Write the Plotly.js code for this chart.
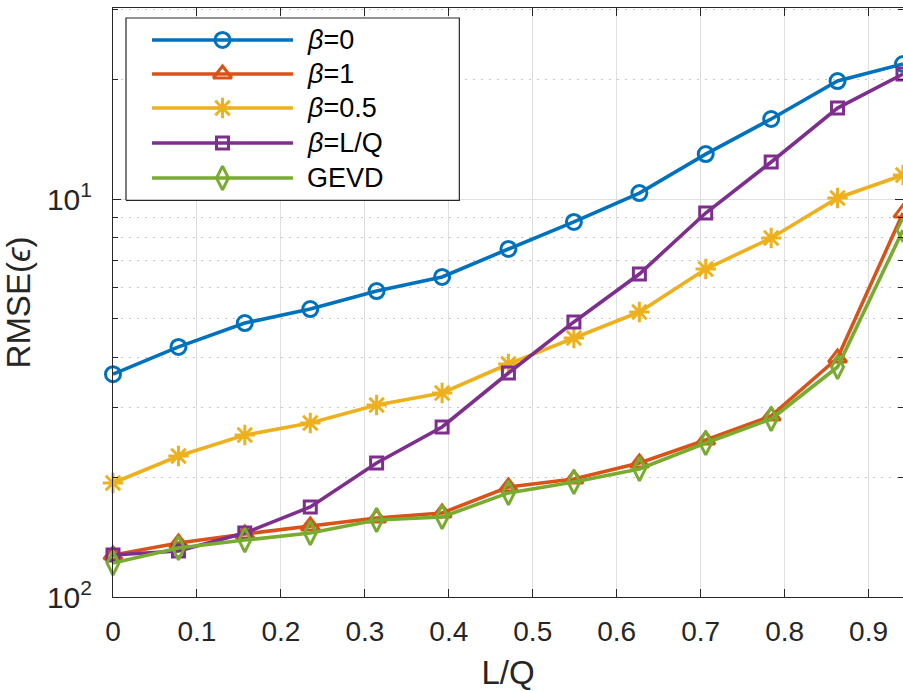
<!DOCTYPE html>
<html>
<head>
<meta charset="utf-8">
<script src="https://cdn.plot.ly/plotly-3.0.1.min.js"></script>
<style>html,body{margin:0;padding:0;background:#fff;}#chart{width:903px;height:691px;}</style>
</head>
<body>
<div id="chart"></div>
<script>
// ---- data ----
const lq = [0, 0.078, 0.157, 0.235, 0.314, 0.392, 0.471, 0.549, 0.627, 0.706, 0.784, 0.863, 0.941];
const beta0   = [0.0363, 0.0425, 0.0488, 0.0529, 0.0587, 0.0637, 0.0749, 0.0876, 0.1035, 0.1297, 0.1589, 0.1979, 0.2184];
const beta1   = [0.01275, 0.01367, 0.0144, 0.01508, 0.01579, 0.01626, 0.0189, 0.0198, 0.02171, 0.0248, 0.0285, 0.03986, 0.0922];
const beta05  = [0.01934, 0.02261, 0.02553, 0.02736, 0.03036, 0.03256, 0.0385, 0.04476, 0.05201, 0.0667, 0.0798, 0.1006, 0.1149];
const betaLQ  = [0.01275, 0.01305, 0.01448, 0.01683, 0.02171, 0.02674, 0.03655, 0.04911, 0.06481, 0.09222, 0.1239, 0.1693, 0.2061];
const gevd    = [0.01217, 0.01328, 0.0139, 0.01448, 0.01561, 0.01589, 0.01826, 0.01945, 0.02097, 0.02437, 0.028, 0.03784, 0.08357];
const seriesNames = ['<i>β</i>=0', '<i>β</i>=1', '<i>β</i>=0.5', '<i>β</i>=L/Q', 'GEVD'];
const xTickVals = [0, 0.1, 0.2, 0.3, 0.4, 0.5, 0.6, 0.7, 0.8, 0.9];
const xTickText = ['0', '0.1', '0.2', '0.3', '0.4', '0.5', '0.6', '0.7', '0.8', '0.9'];
const yTickVals = [0.01, 0.1];
const yTickText = ['10<sup>2</sup>', '10<sup>1</sup>'];
const yMinorVals = [0.02, 0.03, 0.04, 0.05, 0.06, 0.07, 0.08, 0.09, 0.2, 0.3];

// ---- styles ----
const colors = ['#0072BD', '#D95319', '#EDB120', '#7E2F8E', '#77AC30'];
const symbols = ['circle-open', 'triangle-up-open', 'asterisk-open', 'square-open', 'diamond-tall-open'];
const sizes = [15, 16, 17, 12, 17];
const allSeries = [beta0, beta1, beta05, betaLQ, gevd];
const FONT = '"Liberation Sans", Arial, Helvetica, sans-serif';
const axisColor = '#262626';
const LW = 3.6, MLW = 3;

const traces = [];
allSeries.forEach((ys, i) => {
  traces.push({
    x: lq, y: ys, type: 'scatter', mode: 'lines+markers',
    line: {color: colors[i], width: LW},
    marker: {symbol: symbols[i], size: sizes[i], color: colors[i], line: {color: colors[i], width: MLW}},
    cliponaxis: false, showlegend: false, hoverinfo: 'skip'
  });
});

// custom legend (drawn on an overlay axis 0..1)
const boxX = [0.01646, 0.4384, 0.4384, 0.01646, 0.01646];
const boxY = [0.6734, 0.6734, 0.9830, 0.9830, 0.6734];
traces.push({
  x: boxX, y: boxY, xaxis: 'x2', yaxis: 'y2', type: 'scatter', mode: 'lines',
  fill: 'toself', fillcolor: '#ffffff', line: {color: axisColor, width: 1.2},
  showlegend: false, hoverinfo: 'skip'
});
const legX1 = 0.0494, legX2 = 0.2278, legXm = 0.1386, legXt = 0.2430;
const legRows = [0.9457, 0.8879, 0.8302, 0.7708, 0.7114];
const annotations = [];
seriesNames.forEach((nm, i) => {
  traces.push({
    x: [legX1, legX2], y: [legRows[i], legRows[i]], xaxis: 'x2', yaxis: 'y2',
    type: 'scatter', mode: 'lines', line: {color: colors[i], width: LW},
    showlegend: false, hoverinfo: 'skip'
  });
  traces.push({
    x: [legXm], y: [legRows[i]], xaxis: 'x2', yaxis: 'y2',
    type: 'scatter', mode: 'markers',
    marker: {symbol: symbols[i], size: sizes[i], color: colors[i], line: {color: colors[i], width: MLW}},
    showlegend: false, hoverinfo: 'skip', cliponaxis: false
  });
  annotations.push({
    x: legXt, y: legRows[i], xref: 'x2', yref: 'y2', xanchor: 'left', yanchor: 'middle',
    text: nm, showarrow: false, font: {family: FONT, size: 27, color: '#000'}
  });
});

const layout = {
  width: 903, height: 691,
  margin: {l: 113, r: 0, t: 8, b: 94, pad: 0},
  paper_bgcolor: '#fff', plot_bgcolor: '#fff',
  font: {family: FONT, color: axisColor},
  showlegend: false,
  xaxis: {
    range: [0, 0.941], tickmode: 'array', tickvals: xTickVals, ticktext: xTickText,
    ticks: 'inside', ticklen: 8, tickwidth: 1, tickcolor: axisColor,
    showline: true, linecolor: axisColor, linewidth: 1, mirror: 'allticks',
    showgrid: true, gridcolor: '#dfdfdf', gridwidth: 1, zeroline: false,
    tickfont: {family: FONT, size: 28, color: axisColor}, ticklabelstandoff: 9,
    title: {text: 'L/Q', font: {family: FONT, size: 33, color: axisColor}, standoff: 16}
  },
  yaxis: {
    type: 'log', range: [-2, -0.52], tickmode: 'array', tickvals: yTickVals, ticktext: yTickText,
    ticks: 'inside', ticklen: 8, tickwidth: 1, tickcolor: axisColor,
    showline: true, linecolor: axisColor, linewidth: 1, mirror: 'allticks',
    showgrid: true, gridcolor: '#dfdfdf', gridwidth: 1, zeroline: false,
    minor: {tickvals: yMinorVals, ticks: 'inside', ticklen: 5, tickcolor: axisColor,
            showgrid: true, gridcolor: '#c4c4c4', griddash: '2px,6px', gridwidth: 1},
    tickfont: {family: FONT, size: 30, color: axisColor}, ticklabelstandoff: 14,
    title: {text: 'RMSE(<i>ϵ</i>)', font: {family: FONT, size: 33, color: axisColor}, standoff: 8}
  },
  xaxis2: {overlaying: 'x', range: [0, 1], visible: false, fixedrange: true},
  yaxis2: {overlaying: 'y', range: [0, 1], visible: false, fixedrange: true},
  annotations: annotations
};

Plotly.newPlot('chart', traces, layout, {staticPlot: true, displayModeBar: false});
</script>
</body>
</html>
